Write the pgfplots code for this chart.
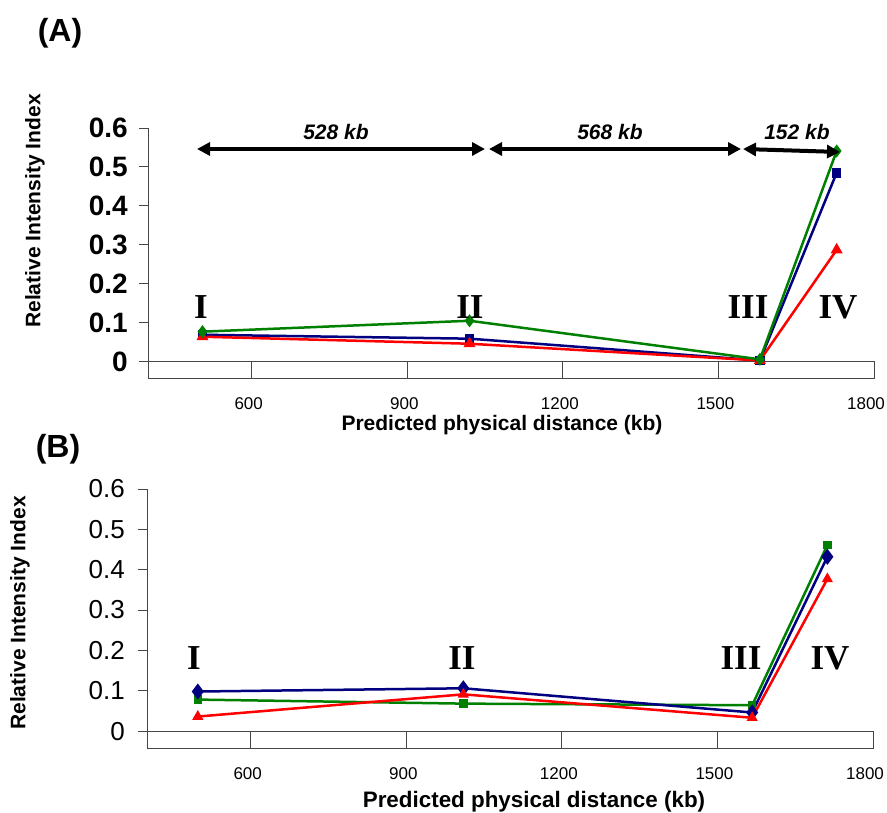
\documentclass[border=0pt]{standalone}
\usepackage{fontspec}
\setmainfont{Liberation Sans}
\newfontfamily\tnr{Liberation Serif}
\usepackage{pgfplots}
\pgfplotsset{compat=1.18}
\usetikzlibrary{arrows.meta}

\definecolor{cgreen}{RGB}{0,128,0}
\definecolor{cblue}{RGB}{0,0,128}
\definecolor{cred}{RGB}{255,0,0}
\definecolor{frame}{RGB}{70,70,70}

\pgfplotsset{
 mystyle/.style={
  scale only axis, width=726pt,
  xmin=400, xmax=1800, ymin=-0.042, ymax=0.6,
  axis lines*=left, axis line style={draw=none},
  xtick={600,900,1200,1500,1800}, xtick style={draw=none},
  xticklabels={600,900,1200,1500,\kern-10pt 1800},
  ytick={0,0.1,0.2,0.3,0.4,0.5,0.6},
  tick align=outside, major tick length=9pt,
  ytick style={frame, line width=1pt},
  /pgf/number format/assume math mode=true,
  /pgf/number format/fixed,
  /pgf/number format/1000 sep={},
  xticklabel style={font=\fontsize{17}{19}\selectfont, inner sep=0pt, anchor=north, yshift=-10pt, xshift=-3pt},
  clip=false,
  every axis plot/.append style={line width=2.5pt},
 }
}

\begin{document}
\begin{tikzpicture}
\path[use as bounding box] (0,0) rectangle (887pt,-813pt);

% ---------------- Panel A ----------------
\begin{axis}[mystyle, height=250pt, at={(148pt,-378pt)}, anchor=south west,
  yticklabel style={font=\fontsize{28}{30}\selectfont\bfseries, inner sep=0pt, anchor=east, xshift=-11pt}]
\draw[frame, line width=1pt] (axis cs:400,-0.042) rectangle (axis cs:1800,0);
\draw[frame, line width=1pt] (axis cs:600,-0.042) -- (axis cs:600,0);
\draw[frame, line width=1pt] (axis cs:900,-0.042) -- (axis cs:900,0);
\draw[frame, line width=1pt] (axis cs:1200,-0.042) -- (axis cs:1200,0);
\draw[frame, line width=1pt] (axis cs:1500,-0.042) -- (axis cs:1500,0);
\draw[frame, line width=1pt] (axis cs:400,0) -- (axis cs:400,0.6);
\addplot[cblue, mark=square*, mark size=3.5pt, mark options={solid}] coordinates {
 (505,0.069) (1020,0.059) (1580,0.003) (1728,0.485)};
\addplot[cred, mark=triangle*, mark size=4.5pt, mark options={solid}] coordinates {
 (505,0.064) (1020,0.046) (1580,0.003) (1728,0.287)};
\addplot[cgreen, mark=diamond*, mark size=4.5pt, mark options={solid}] coordinates {
 (505,0.077) (1020,0.105) (1580,0.006) (1728,0.541)};
\end{axis}

% ---------------- Panel B ----------------
\begin{axis}[mystyle, height=259pt, at={(147pt,-748pt)}, anchor=south west,
  yticklabel style={font=\fontsize{26}{28}\selectfont, inner sep=0pt, anchor=east, xshift=-13pt}]
\draw[frame, line width=1pt] (axis cs:400,-0.042) rectangle (axis cs:1800,0);
\draw[frame, line width=1pt] (axis cs:600,-0.042) -- (axis cs:600,0);
\draw[frame, line width=1pt] (axis cs:900,-0.042) -- (axis cs:900,0);
\draw[frame, line width=1pt] (axis cs:1200,-0.042) -- (axis cs:1200,0);
\draw[frame, line width=1pt] (axis cs:1500,-0.042) -- (axis cs:1500,0);
\draw[frame, line width=1pt] (axis cs:400,0) -- (axis cs:400,0.6);
\addplot[cgreen, mark=square*, mark size=3pt, mark options={solid}] coordinates {
 (498,0.078) (1010,0.068) (1567,0.064) (1712,0.461)};
\addplot[cblue, mark=diamond*, mark size=6pt, mark options={solid}] coordinates {
 (498,0.098) (1010,0.106) (1567,0.046) (1712,0.432)};
\addplot[cred, mark=triangle*, mark size=4pt, mark options={solid}] coordinates {
 (498,0.036) (1010,0.091) (1567,0.033) (1712,0.377)};
\end{axis}

% ---------------- Annotations ----------------
\node[font=\fontsize{32}{34}\selectfont\bfseries] at (60pt,-33pt) {(A)};
\node[font=\fontsize{32}{34}\selectfont\bfseries] at (58pt,-449pt) {(B)};

\node[rotate=90, font=\fontsize{21}{23}\selectfont\bfseries] at (35pt,-211pt) {Relative Intensity Index};
\node[rotate=90, font=\fontsize{21}{23}\selectfont\bfseries] at (20pt,-613pt) {Relative Intensity Index};
\node[font=\fontsize{21}{23}\selectfont\bfseries, inner sep=1pt] at (502pt,-425pt) {Predicted physical distance (kb)};
\node[font=\fontsize{22.4}{24}\selectfont\bfseries, inner sep=1pt] at (534pt,-802pt) {Predicted physical distance (kb)};

\draw[line width=4pt, {Triangle[length=13pt,width=13pt]}-{Triangle[length=13pt,width=13pt]}] (197pt,-149pt) -- (485pt,-149pt);
\draw[line width=4pt, {Triangle[length=13pt,width=13pt]}-{Triangle[length=13pt,width=13pt]}] (489pt,-149pt) -- (741pt,-149pt);
\draw[line width=4pt, {Triangle[length=13pt,width=13pt]}-{Triangle[length=13pt,width=13pt]}] (743pt,-149pt) -- (840pt,-152pt);
\node[font=\fontsize{21}{23}\selectfont\bfseries\itshape] at (336pt,-132pt) {528 kb};
\node[font=\fontsize{21}{23}\selectfont\bfseries\itshape] at (610pt,-132pt) {568 kb};
\node[font=\fontsize{21}{23}\selectfont\bfseries\itshape] at (797pt,-132pt) {152 kb};

\begin{scope}[every node/.style={font=\fontsize{35}{37}\selectfont\tnr\bfseries}]
\node at (201pt,-307pt) {I};
\node at (470pt,-307pt) {II};
\node at (748pt,-307pt) {III};
\node at (838pt,-307pt) {IV};
\node at (194pt,-658pt) {I};
\node at (462pt,-658pt) {II};
\node at (741pt,-658pt) {III};
\node at (830pt,-658pt) {IV};
\end{scope}
\end{tikzpicture}
\end{document}
